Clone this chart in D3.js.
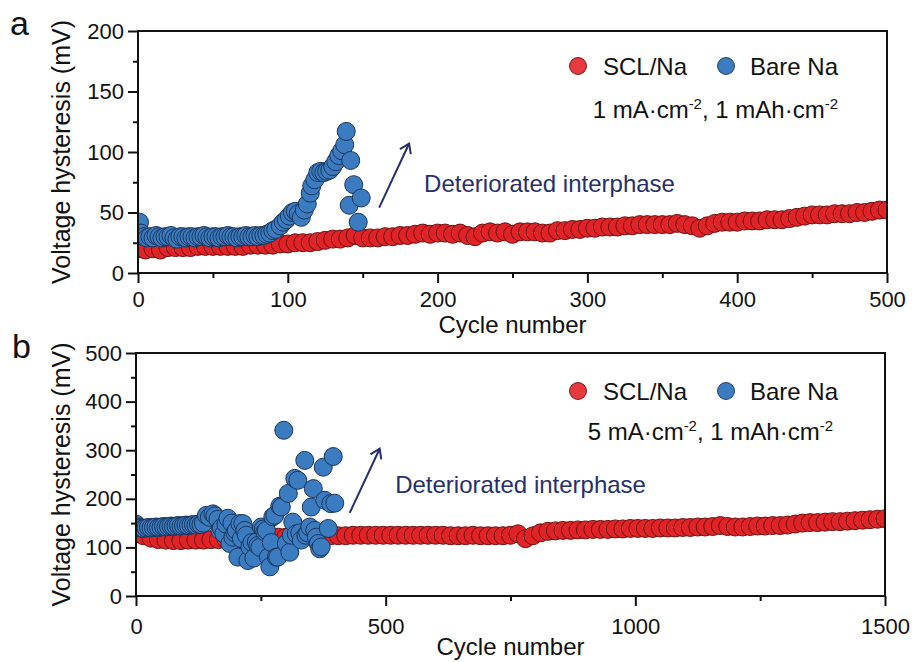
<!DOCTYPE html>
<meta charset="utf-8">
<script src="https://d3js.org/d3.v7.min.js"></script>
<style>
  body { margin: 0; background: #fff; }
  text { font-family: Arial, "Liberation Sans", sans-serif; }
</style>
<div id="chart"></div>
<script>
// ---------- panel a : 1 mA cm-2, 1 mAh cm-2 ----------
var sclCyclesA = d3.range(0, 501, 5);
var sclValuesA = [20,19,20,19,21,21,21,21,22,22, 22,22,22,22,22,23,23,23,23,24,
                  24,25,25,25,26,27,28,28,29,31, 29,29,29,30,30,31,31,32,33,32,
                  33,33,32,33,31,30,33,34,33,34, 32,34,34,34,33,33,35,35,36,36,
                  37,37,38,38,38,39,39,40,40,40, 40,40,41,40,39,37,39,41,42,42,
                  42,43,43,43,44,44,44,45,46,47, 48,48,48,49,49,49,50,50,51,52,
                  52];
var bareCyclesA = [0,1,2,4,6,8,10,12,14,16,18,20,22,24,26,28,30,32,34,36,38,40,42,44,46,48,
                   50,52,54,56,58,60,62,64,66,68,70,72,74,76,78,80,82,84,86,88,90,92,95,97,
                   99,101,103,105,107,109,111,113,115,116,118,120,122,124,126,128,130,132,134,136,
                   138,139,141,142,144,147,149];
var bareValuesA = [31,42,33,30,29,30,29,31,30,29,30,30,31,29,28,30,30,29,30,30,29,30,30,31,30,29,
                   30,30,29,30,30,31,30,30,29,30,30,31,30,30,31,30,31,31,32,33,35,36,39,42,
                   44,47,50,51,49,46,52,57,66,72,77,83,84,83,84,85,88,92,97,101,
                   106,117,56,93,73,42,62];

// ---------- panel b : 5 mA cm-2, 1 mAh cm-2 ----------
var sclCyclesB = d3.range(0, 1501, 15);
var sclValuesB = [128,124,119,116,115,114,114,115,115,115, 116,116,117,117,118,118,119,120,120,121,
                  121,122,122,123,123,124,124,124,124,125, 125,125,125,125,125,125,125,125,125,125,
                  125,125,124,124,124,125,124,124,124,124, 125,128,118,124,130,133,134,135,135,136,
                  136,137,137,137,138,138,139,139,139,139, 140,140,140,141,141,142,142,143,145,143,
                  142,142,143,144,144,145,145,146,148,150, 151,151,152,153,153,154,155,156,157,158,
                  159];
var bareCyclesB = [0,5,10,15,20,25,30,35,40,45,50,55,60,65,70,75,80,85,90,95,100,105,110,115,120,125,130,
                   135,141,147,154,158,164,168,171,176,180,184,188,192,194,198,201,204,208,211,214,218,
                   221,224,228,232,236,241,244,248,251,255,258,261,265,268,271,274,278,281,284,288,291,
                   296,301,305,308,311,314,318,321,324,328,331,338,340,344,348,351,355,358,361,365,368,
                   371,375,378,385,390,395,398];
var bareValuesB = [148,142,140,139,140,141,140,141,142,141,142,143,142,143,144,143,144,145,144,145,146,145,146,147,146,148,147,
                   150,166,162,169,165,158,135,140,128,148,160,108,150,121,130,135,80,149,118,149,135,
                   125,73,101,110,78,111,104,100,142,138,132,135,80,60,110,163,166,80,80,185,183,
                   341,108,211,90,125,152,242,128,238,130,115,279,125,130,142,183,221,135,121,108,97,
                   101,265,197,139,190,287,191];

var yTicksA = [0, 50, 100, 150, 200], xTicksA = [0, 100, 200, 300, 400, 500];
var yTicksB = [0, 100, 200, 300, 400, 500], xTicksB = [0, 500, 1000, 1500];

var RED = "#df2327", RED_EDGE = "#6e1010", BLUE = "#3b7cc1", BLUE_EDGE = "#1a355a", NAVY = "#27306b";

var svg = d3.select("#chart").append("svg")
    .attr("width", 912)
    .attr("height", 662);

var defs = svg.append("defs");
defs.append("marker")
    .attr("id", "head")
    .attr("viewBox", "-10 -10 20 20")
    .attr("markerWidth", 20).attr("markerHeight", 20)
    .attr("markerUnits", "userSpaceOnUse")
    .attr("orient", "auto")
  .append("path")
    .attr("d", "M-9,-6 L0,0 L-9,6")
    .attr("fill", "none")
    .attr("stroke", NAVY)
    .attr("stroke-width", 2);

function drawPanel(p) {
  var x = d3.scaleLinear().domain(p.xDomain).range([p.left, p.right]);
  var y = d3.scaleLinear().domain(p.yDomain).range([p.bottom, p.top]);
  var g = svg.append("g");

  defs.append("clipPath").attr("id", "clip" + p.id)
    .append("rect")
      .attr("x", p.left).attr("y", p.top)
      .attr("width", p.right - p.left).attr("height", p.bottom - p.top);

  var pts = g.append("g").attr("clip-path", "url(#clip" + p.id + ")");
  pts.selectAll(".scl")
    .data(p.sclX.map(function(c, i) { return [c, p.sclY[i]]; }))
    .enter().append("circle")
      .attr("cx", function(d) { return x(d[0]); })
      .attr("cy", function(d) { return y(d[1]); })
      .attr("r", 9)
      .attr("fill", RED)
      .attr("stroke", RED_EDGE)
      .attr("stroke-width", 1);
  pts.selectAll(".bare")
    .data(p.bareX.map(function(c, i) { return [c, p.bareY[i]]; }))
    .enter().append("circle")
      .attr("cx", function(d) { return x(d[0]); })
      .attr("cy", function(d) { return y(d[1]); })
      .attr("r", 9)
      .attr("fill", BLUE)
      .attr("stroke", BLUE_EDGE)
      .attr("stroke-width", 1);

  // minor ticks
  var minorX = d3.range(p.xDomain[0] + p.xMinor, p.xDomain[1], p.xMinor * 2);
  var minorY = d3.range(p.yDomain[0] + p.yMinor, p.yDomain[1], p.yMinor * 2);
  g.append("g")
    .attr("transform", "translate(0," + p.bottom + ")")
    .call(d3.axisBottom(x).tickValues(minorX).tickSize(5).tickFormat(""))
    .call(function(a) { a.select(".domain").remove(); });
  g.append("g")
    .attr("transform", "translate(" + p.left + ",0)")
    .call(d3.axisLeft(y).tickValues(minorY).tickSize(5).tickFormat(""))
    .call(function(a) { a.select(".domain").remove(); });

  // major axes
  g.append("g")
    .attr("class", "axis")
    .attr("transform", "translate(0," + p.bottom + ")")
    .call(d3.axisBottom(x).tickValues(p.xTicks).tickFormat(d3.format("d"))
      .tickSize(10).tickSizeOuter(0).tickPadding(p.xPad))
    .call(function(a) { a.select(".domain").remove(); });
  g.append("g")
    .attr("class", "axis")
    .attr("transform", "translate(" + p.left + ",0)")
    .call(d3.axisLeft(y).tickValues(p.yTicks).tickFormat(d3.format("d"))
      .tickSize(10).tickSizeOuter(0).tickPadding(4))
    .call(function(a) { a.select(".domain").remove(); });

  g.selectAll(".tick line").attr("stroke", "#111").attr("stroke-width", 2);
  g.selectAll(".axis text").attr("font-size", 22).attr("fill", "#111")
    .attr("font-family", "Arial, 'Liberation Sans', sans-serif");

  g.append("rect")
    .attr("x", p.left).attr("y", p.top)
    .attr("width", p.right - p.left).attr("height", p.bottom - p.top)
    .attr("fill", "none").attr("stroke", "#111").attr("stroke-width", 2);

  // axis titles
  g.append("text")
    .attr("x", (p.left + p.right) / 2).attr("y", p.xTitleY)
    .attr("text-anchor", "middle").attr("font-size", 24).attr("fill", "#111")
    .text("Cycle number");
  g.append("text")
    .attr("transform", "translate(70," + (p.top + p.bottom) / 2 + ") rotate(-90)")
    .attr("text-anchor", "middle").attr("font-size", 25).attr("fill", "#111")
    .text("Voltage hysteresis (mV)");

  // panel letter
  g.append("text")
    .attr("x", p.letterX).attr("y", p.letterY)
    .attr("font-size", 34).attr("fill", "#111")
    .text(p.letter);

  // legend
  var lg = g.append("g").attr("transform", "translate(0," + p.legendY + ")");
  lg.append("circle").attr("cx", 578).attr("cy", 0).attr("r", 8.5)
    .attr("fill", "#e63a3f").attr("stroke", RED_EDGE).attr("stroke-width", 0.9);
  lg.append("text").attr("x", 603).attr("y", 8.5).attr("font-size", 24).attr("fill", "#111").text("SCL/Na");
  lg.append("circle").attr("cx", 726).attr("cy", 0).attr("r", 8.5)
    .attr("fill", BLUE).attr("stroke", BLUE_EDGE).attr("stroke-width", 0.9);
  lg.append("text").attr("x", 750).attr("y", 8.5).attr("font-size", 24).attr("fill", "#111").text("Bare Na");

  var cond = g.append("text")
    .attr("x", p.condX).attr("y", p.condY)
    .attr("text-anchor", "end").attr("font-size", 24).attr("fill", "#111");
  cond.append("tspan").text(p.current + " mA\u00b7cm");
  cond.append("tspan").attr("dy", -9).attr("font-size", 15).text("-2");
  cond.append("tspan").attr("dy", 9).text(", 1 mAh\u00b7cm");
  cond.append("tspan").attr("dy", -9).attr("font-size", 15).text("-2");

  // annotation
  g.append("line")
    .attr("x1", x(p.arrow[0])).attr("y1", y(p.arrow[1]))
    .attr("x2", x(p.arrow[2])).attr("y2", y(p.arrow[3]))
    .attr("stroke", NAVY).attr("stroke-width", 2)
    .attr("marker-end", "url(#head)");
  g.append("text")
    .attr("x", x(p.note[0])).attr("y", y(p.note[1]))
    .attr("font-size", 24).attr("fill", NAVY)
    .text("Deteriorated interphase");
}

drawPanel({
  id: "a", letter: "a", letterX: 10, letterY: 35,
  left: 138, right: 887, top: 31, bottom: 273,
  xDomain: [0, 500], yDomain: [0, 200], xMinor: 50, yMinor: 25,
  xTicks: xTicksA, yTicks: yTicksA, xPad: 8, xTitleY: 333,
  sclX: sclCyclesA, sclY: sclValuesA, bareX: bareCyclesA, bareY: bareValuesA,
  legendY: 66, condX: 838, condY: 118, current: "1",
  arrow: [161, 54, 181, 107], note: [191, 67]
});

drawPanel({
  id: "b", letter: "b", letterX: 12, letterY: 358,
  left: 136, right: 885, top: 353, bottom: 596,
  xDomain: [0, 1500], yDomain: [0, 500], xMinor: 250, yMinor: 50,
  xTicks: xTicksB, yTicks: yTicksB, xPad: 12, xTitleY: 655,
  sclX: sclCyclesB, sclY: sclValuesB, bareX: bareCyclesB, bareY: bareValuesB,
  legendY: 391, condX: 833, condY: 440, current: "5",
  arrow: [428, 171, 488, 303], note: [519, 211]
});
</script>
